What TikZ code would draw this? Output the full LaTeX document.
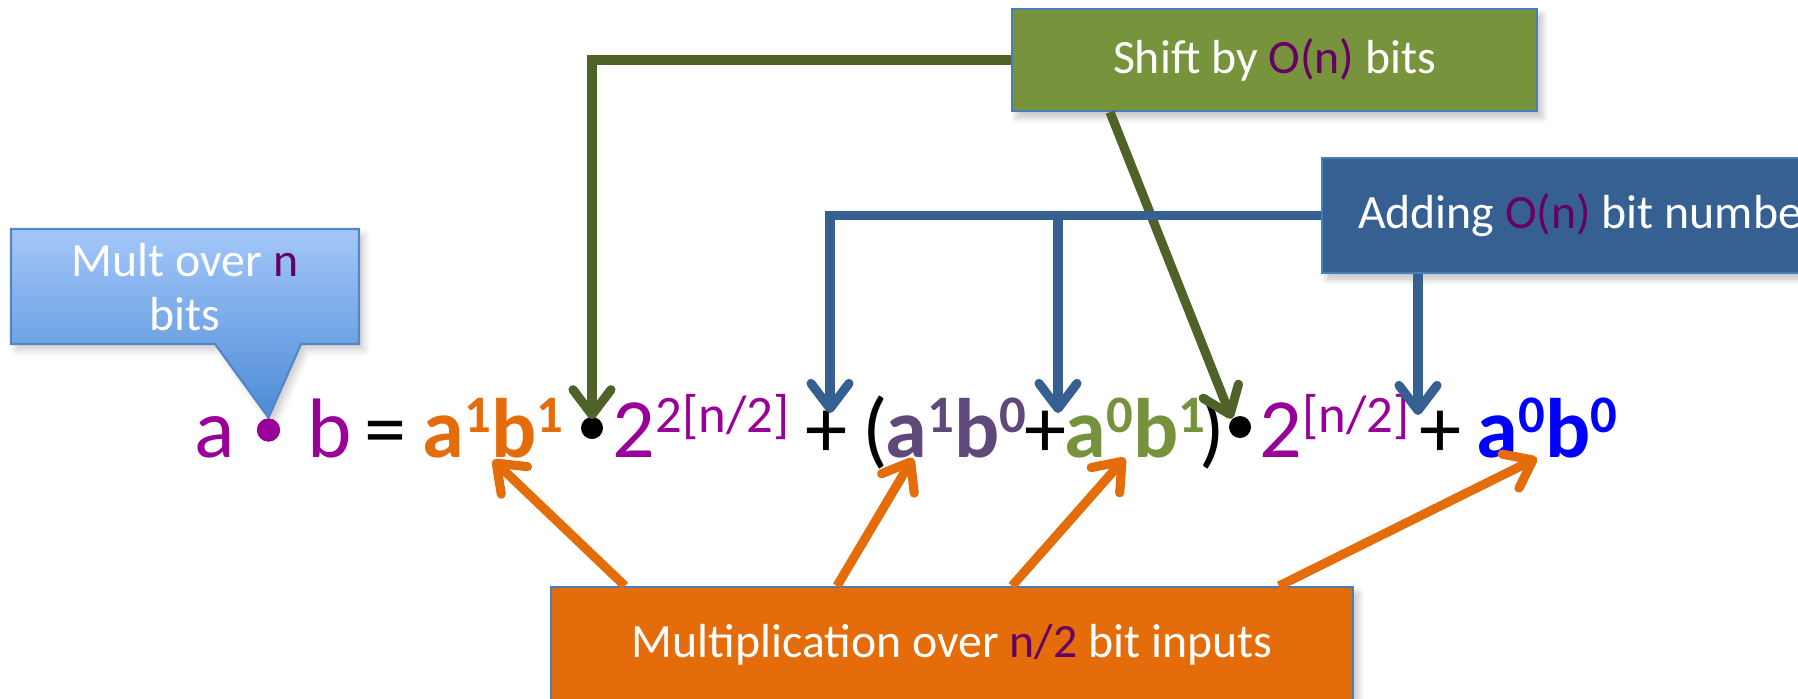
\documentclass[tikz,border=0pt]{standalone}
\usepackage{fontspec}
\setmainfont{Carlito}
\usetikzlibrary{arrows.meta, positioning, calc, shadows.blur}
\definecolor{eqPurple}{HTML}{990099}
\definecolor{labPurple}{HTML}{660066}
\definecolor{multOrange}{HTML}{E46C0A}
\definecolor{shiftFill}{HTML}{77933C}
\definecolor{shiftLine}{HTML}{4F6228}
\definecolor{addFill}{HTML}{376092}
\definecolor{boxEdge}{HTML}{4A7EBB}
\definecolor{termTen}{HTML}{5F497A}
\definecolor{termOne}{HTML}{76923C}
\definecolor{termZero}{HTML}{0000FF}
\definecolor{callTop}{HTML}{A4C7FA}
\definecolor{callBot}{HTML}{4C8BD6}
\definecolor{callEdge}{HTML}{5485C6}

\newcommand{\hiexp}[1]{\raisebox{2.5mm}{\fontsize{15}{15}\selectfont #1}}
\newcommand{\eqsize}{\fontsize{24}{28}\selectfont}
\newcommand{\labsize}{\fontsize{13.6}{15.6}\selectfont}

\begin{document}
\begin{tikzpicture}[
  labbox/.style={draw=boxEdge, line width=0.6pt, text=white, font=\labsize,
    inner sep=0pt, blur shadow={shadow xshift=0.5mm, shadow yshift=-0.6mm,
    shadow blur steps=6, shadow opacity=25}},
  eqtok/.style={anchor=base west, inner sep=0pt, font=\eqsize},
  dotmark/.style={circle, inner sep=0pt, minimum size=2.2mm},
  conn/.style={line width=2.6pt,
    -{Straight Barb[round, length=2.5mm, width=3.8mm]}}]
  \useasboundingbox (0,0) rectangle (17.98,-6.98);
  \clip (0,0) rectangle (17.98,-6.98);

  % callout over the product
  \node[dotmark, fill=eqPurple, minimum size=2.3mm] (mdot) at (2.685,-4.30) {};
  \path[draw=callEdge, line width=0.6pt, top color=callTop, bottom color=callBot,
    blur shadow={shadow xshift=0.5mm, shadow yshift=-0.6mm, shadow opacity=20}]
    (0.11,-2.29) -- (3.59,-2.29) -- (3.59,-3.44) -- (3.01,-3.44)
    -- (mdot.north) -- (2.15,-3.44) -- (0.11,-3.44) -- cycle;
  \node[text=white, font=\labsize, align=center, inner sep=0pt] (multcall)
    at (1.85,-2.87) {Mult over \textcolor{labPurple}{n}\\bits};
  \node[dotmark, fill=eqPurple, minimum size=2.3mm] at (mdot) {};

  % the equation
  \node[eqtok, text=eqPurple] (ta) at (1.94,-4.57) {a};
  \node[eqtok, text=eqPurple] (tb) at (3.07,-4.57) {b};
  \node[eqtok] (teq) at (3.64,-4.57) {=};
  \node[eqtok, text=multOrange, font=\eqsize\bfseries] (ab11) at (4.22,-4.57) {a\hiexp{1}b\hiexp{1}};
  \node[dotmark, fill=black] (sdot1) at (5.92,-4.28) {};
  \node[eqtok, text=eqPurple] (pw1) at (6.12,-4.57) {2\hiexp{2[n/2]}};
  \node[eqtok] (pl1) at (8.05,-4.57) {+};
  \node[eqtok] (lpar) at (8.62,-4.57) {(};
  \node[eqtok, text=termTen, font=\eqsize\bfseries] (ab10) at (8.85,-4.57) {a\hiexp{1}b\hiexp{0}};
  \node[eqtok] (pl2) at (10.24,-4.57) {+};
  \node[eqtok, text=termOne, font=\eqsize\bfseries] (ab01) at (10.64,-4.57) {a\hiexp{0}b\hiexp{1}};
  \node[eqtok] (rpar) at (11.99,-4.57) {)};
  \node[dotmark, fill=black] (sdot2) at (12.40,-4.27) {};
  \node[eqtok, text=eqPurple] (pw2) at (12.59,-4.57) {2\hiexp{[n/2]}};
  \node[eqtok] (pl3) at (14.19,-4.57) {+};
  \node[eqtok, text=termZero, font=\eqsize\bfseries] (ab00) at (14.76,-4.57) {a\hiexp{0}b\hiexp{0}};

  % arrow ends
  \coordinate (tipadd1) at (8.30,-4.13);
  \coordinate (tipadd2) at (10.58,-4.13);
  \coordinate (tipadd3) at (14.18,-4.15);
  \coordinate (tipmult1) at (4.93,-4.60);
  \coordinate (tipmult2) at (9.13,-4.58);
  \coordinate (tipmult3) at (11.25,-4.58);
  \coordinate (tipmult4) at (15.37,-4.58);

  % boxes
  \node[labbox, fill=shiftFill, minimum width=5.25cm, minimum height=1.02cm] (shiftbox)
    at (12.745,-0.60) {Shift by \textcolor{labPurple}{O(n)} bits};
  \node[labbox, fill=addFill, anchor=west, inner xsep=3.6mm, minimum height=1.15cm] (addbox)
    at (13.21,-2.155) {Adding \textcolor{labPurple}{O(n)} bit numbers};
  \node[labbox, fill=multOrange, minimum width=8.02cm, minimum height=1.16cm] (multbox)
    at (9.52,-6.45) {Multiplication over \textcolor{labPurple}{n/2} bit inputs};

  % connectors
  \draw[conn, shiftLine] (shiftbox.west) -| ([yshift=-0.3mm]sdot1.north);
  \draw[conn, shiftLine] ([xshift=-16.45mm]shiftbox.south) -- (sdot2.north west);
  \draw[conn, addFill] (addbox.west) -| (tipadd1);
  \draw[conn, addFill] (addbox.west -| tipadd2) -- (tipadd2);
  \draw[conn, addFill] (addbox.south -| tipadd3) -- (tipadd3);
  \draw[conn, multOrange] ([xshift=-32.7mm]multbox.north) -- (tipmult1);
  \draw[conn, multOrange] ([xshift=-11.5mm]multbox.north) -- (tipmult2);
  \draw[conn, multOrange] ([xshift=6mm]multbox.north) -- (tipmult3);
  \draw[conn, multOrange] ([xshift=32.7mm]multbox.north) -- (tipmult4);
\end{tikzpicture}
\end{document}
